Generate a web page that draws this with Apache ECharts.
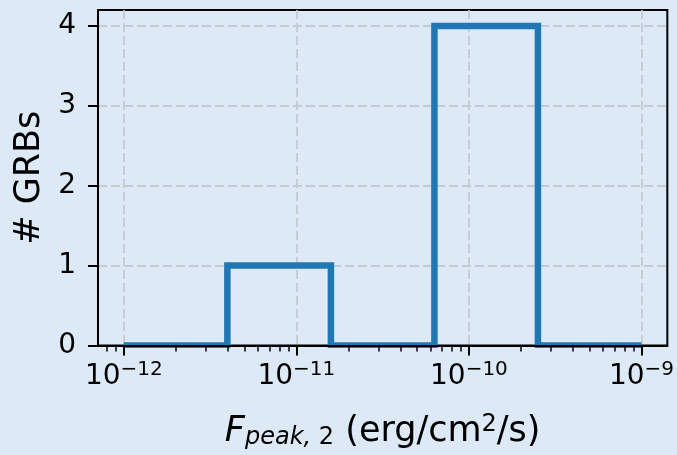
<!DOCTYPE html>
<html>
<head>
<meta charset="utf-8">
<script src="https://cdn.jsdelivr.net/npm/echarts@6/dist/echarts.min.js"></script>
<style>
  html, body { margin: 0; padding: 0; background: #dde9f6; }
  #chart { width: 677px; height: 455px; }
</style>
</head>
<body>
<div id="chart"></div>
<script>
// Log-spaced bin edges of the peak flux histogram (erg/cm^2/s)
const binEdges = [1e-12, 3.98e-12, 1.585e-11, 6.31e-11, 2.512e-10, 1e-9];
// Number of GRBs falling in each bin
const binCounts = [0, 1, 0, 4, 0];

// Axis ranges and tick positions
const xRange = [Math.pow(10, -12.15), Math.pow(10, -8.85)];
const xMajorTicks = [1e-12, 1e-11, 1e-10, 1e-9];
const xMinorMultiples = [2, 3, 4, 5, 6, 7, 8, 9];
const xMinorDecades = [1e-13, 1e-12, 1e-11, 1e-10];
const yRange = [0, 4.2];
const yTicks = [0, 1, 2, 3, 4];

const BG = '#dde9f6';
const FONT = 'DejaVu Sans';
const TICK_FONT = 28;
const LABEL_FONT = 35;

// Minor log ticks inside the visible range
const xMinorTicks = [];
xMinorDecades.forEach(d => xMinorMultiples.forEach(m => {
  const v = m * d;
  if (v >= xRange[0] && v <= xRange[1]) xMinorTicks.push(v);
}));

// Step outline of the histogram
const stepPoints = [[binEdges[0], 0]];
binCounts.forEach((c, i) => {
  stepPoints.push([binEdges[i], c]);
  stepPoints.push([binEdges[i + 1], c]);
});
stepPoints.push([binEdges[binEdges.length - 1], 0]);

const gridLine = { show: true, lineStyle: { color: '#c4cad1', width: 1.8, type: [9, 4] } };
const spine = { show: true, onZero: false, lineStyle: { color: '#000', width: 2 } };
const logX = { type: 'log', logBase: 10, min: xRange[0], max: xRange[1], position: 'bottom' };
const linY = { type: 'value', min: yRange[0], max: yRange[1], interval: 1, position: 'left' };

const chart = echarts.init(document.getElementById('chart'), null, { renderer: 'canvas' });
chart.setOption({
  backgroundColor: BG,
  animation: false,
  grid: {
    left: 98, right: 9, top: 10, bottom: 108,
    show: true, borderColor: '#000', borderWidth: 2, backgroundColor: 'transparent'
  },
  xAxis: [
    // grid lines, tick labels and title (drawn beneath the histogram)
    Object.assign({}, logX, {
      z: 0,
      axisLine: { show: false },
      axisTick: { show: false, customValues: xMajorTicks },
      splitLine: gridLine,
      axisLabel: {
        customValues: xMajorTicks, margin: 14, color: '#000',
        formatter: v => '{b|10}{s|\u2212' + Math.abs(Math.round(Math.log10(v))) + '}',
        rich: {
          b: { fontFamily: FONT, fontSize: TICK_FONT, color: '#000' },
          s: { fontFamily: FONT, fontSize: 20, color: '#000', padding: [0, 0, 14, 0] }
        }
      },
      name: '{f|F}{sub|peak,}{sub2| 2}{n| (erg/cm}{sup|2}{n|/s)}',
      nameLocation: 'middle', nameGap: 67,
      nameTextStyle: {
        rich: {
          f: { fontFamily: FONT, fontStyle: 'italic', fontSize: LABEL_FONT, color: '#000' },
          sub: { fontFamily: FONT, fontStyle: 'italic', fontSize: 24, color: '#000', padding: [12, 0, 0, 0] },
          sub2: { fontFamily: FONT, fontSize: 24, color: '#000', padding: [12, 0, 0, 0] },
          n: { fontFamily: FONT, fontSize: LABEL_FONT, color: '#000' },
          sup: { fontFamily: FONT, fontSize: 24, color: '#000', padding: [0, 0, 15, 0] }
        }
      }
    }),
    // spine and major ticks (drawn above the histogram)
    Object.assign({}, logX, {
      z: 10,
      axisLine: spine,
      axisTick: { show: true, customValues: xMajorTicks, length: 10, lineStyle: { color: '#000', width: 2 } },
      axisLabel: { show: false },
      splitLine: { show: false }
    }),
    // minor ticks
    Object.assign({}, logX, {
      z: 10,
      axisLine: { show: false },
      axisTick: { show: true, customValues: xMinorTicks, length: 6, lineStyle: { color: '#000', width: 1.5 } },
      axisLabel: { show: false },
      splitLine: { show: false }
    })
  ],
  yAxis: [
    Object.assign({}, linY, {
      z: 0,
      axisLine: { show: false },
      axisTick: { show: false, customValues: yTicks },
      splitLine: gridLine,
      axisLabel: { customValues: yTicks, margin: 22, fontFamily: FONT, fontSize: TICK_FONT, color: '#000' },
      name: '# GRBs', nameLocation: 'middle', nameGap: 51, nameRotate: 90,
      nameTextStyle: { fontFamily: FONT, fontSize: LABEL_FONT, color: '#000' }
    }),
    Object.assign({}, linY, {
      z: 10,
      axisLine: spine,
      axisTick: { show: true, customValues: yTicks, length: 10, lineStyle: { color: '#000', width: 2 } },
      axisLabel: { show: false },
      splitLine: { show: false }
    })
  ],
  graphic: [
    // hides the half of the zero-level outline that falls below the x axis
    { type: 'rect', z: 5, shape: { x: 98, y: 348, width: 571, height: 5 }, style: { fill: BG } }
  ],
  series: [{
    type: 'line', xAxisIndex: 0, yAxisIndex: 0, data: stepPoints,
    showSymbol: false, symbol: 'none', clip: true, z: 2,
    lineStyle: { color: '#1f77b4', width: 6.5, join: 'miter', cap: 'butt' }
  }]
});
</script>
</body>
</html>
